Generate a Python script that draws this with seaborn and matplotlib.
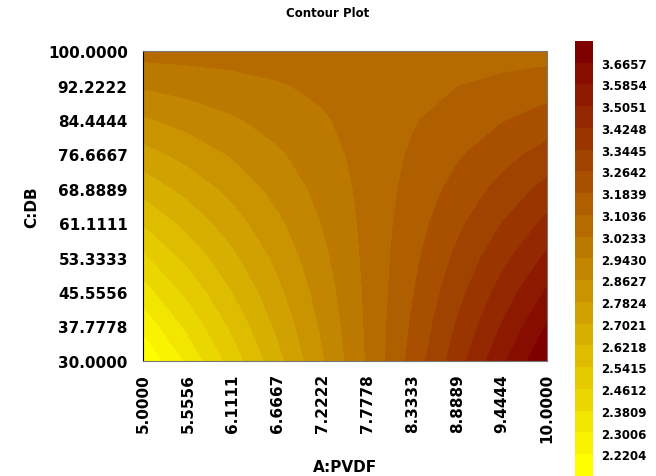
import numpy as np
import matplotlib
matplotlib.use("Agg")
import matplotlib.pyplot as plt
from matplotlib.colors import ListedColormap, BoundaryNorm, LinearSegmentedColormap
import seaborn as sns

# factor levels shown on the axes
pvdf = [5.0, 5.5556, 6.1111, 6.6667, 7.2222, 7.7778, 8.3333, 8.8889, 9.4444, 10.0]
db = [30.0, 37.7778, 45.5556, 53.3333, 61.1111, 68.8889, 76.6667, 84.4444, 92.2222, 100.0]

# response at each grid point (rows: DB low -> high, cols: PVDF low -> high)
resp = [
    [2.141, 2.318, 2.497, 2.675, 2.854, 3.032, 3.211, 3.389, 3.568, 3.745],
    [2.242, 2.400, 2.559, 2.718, 2.877, 3.036, 3.195, 3.353, 3.512, 3.671],
    [2.343, 2.482, 2.622, 2.761, 2.900, 3.039, 3.178, 3.317, 3.457, 3.596],
    [2.445, 2.564, 2.684, 2.803, 2.923, 3.043, 3.162, 3.282, 3.401, 3.521],
    [2.546, 2.646, 2.746, 2.846, 2.946, 3.046, 3.146, 3.246, 3.346, 3.446],
    [2.648, 2.728, 2.808, 2.889, 2.969, 3.049, 3.130, 3.210, 3.290, 3.371],
    [2.749, 2.810, 2.871, 2.931, 2.992, 3.053, 3.113, 3.174, 3.235, 3.295],
    [2.851, 2.892, 2.933, 2.974, 3.015, 3.056, 3.097, 3.138, 3.179, 3.220],
    [2.952, 2.974, 2.995, 3.017, 3.038, 3.059, 3.081, 3.102, 3.124, 3.145],
    [3.054, 3.056, 3.058, 3.059, 3.061, 3.063, 3.065, 3.067, 3.068, 3.070],
]

z_min, z_max = 2.1401, 3.7460
cbar_ticks = [2.2204, 2.3006, 2.3809, 2.4612, 2.5415, 2.6218, 2.7021, 2.7824, 2.8627,
              2.9430, 3.0233, 3.1036, 3.1839, 3.2642, 3.3445, 3.4248, 3.5051, 3.5854, 3.6657]

sns.set_style("white")
plt.rcParams["font.family"] = ["DejaVu Sans"]
plt.rcParams["text.color"] = "black"
plt.rcParams["axes.labelcolor"] = "black"
plt.rcParams["xtick.color"] = "black"
plt.rcParams["ytick.color"] = "black"

levels = np.linspace(z_min, z_max, 21)
base = LinearSegmentedColormap.from_list("yel_maroon", ["#ffff00", "#800000"])
cmap = ListedColormap(base(np.linspace(0, 1, 20)))
norm = BoundaryNorm(levels, cmap.N)

fig = plt.figure(figsize=(6.56, 4.77), dpi=100)
ax = fig.add_axes([0.218, 0.2417, 0.616, 0.6487])
cax = fig.add_axes([0.877, 0.0, 0.027, 0.912])

X, Y = np.meshgrid(pvdf, db)
cs = ax.contourf(X, Y, np.array(resp), levels=levels, cmap=cmap, norm=norm)

ax.set_xlim(5, 10)
ax.set_ylim(30, 100)
ax.set_xticks(pvdf)
ax.set_xticklabels([f"{v:.4f}" for v in pvdf], rotation=90, fontsize=11, fontweight="bold")
ax.set_yticks(db)
ax.set_yticklabels([f"{v:.4f}" for v in db], fontsize=11, fontweight="bold")
ax.tick_params(axis="both", direction="out", length=5, width=1, color="#555555",
               labelcolor="black")
ax.tick_params(axis="x", pad=4)
ax.tick_params(axis="y", pad=6)
for side in ["top", "right", "bottom"]:
    ax.spines[side].set_color("#777777")
ax.spines["left"].set_color("black")

ax.set_xlabel("A:PVDF", fontsize=11, fontweight="bold", labelpad=12)
ax.set_ylabel("C:DB", fontsize=11, fontweight="bold", labelpad=6)
fig.text(0.5, 0.972, "Contour Plot", ha="center", va="center", fontsize=8.5, fontweight="bold")

cbar = fig.colorbar(cs, cax=cax, ticks=cbar_ticks)
cbar.outline.set_visible(False)
cax.minorticks_off()
cax.set_yticklabels([f"{t:.4f}" for t in cbar_ticks], fontsize=8.5, fontweight="bold")
cax.tick_params(length=0, pad=6, labelcolor="black")

fig.savefig("out.png", dpi=100)
